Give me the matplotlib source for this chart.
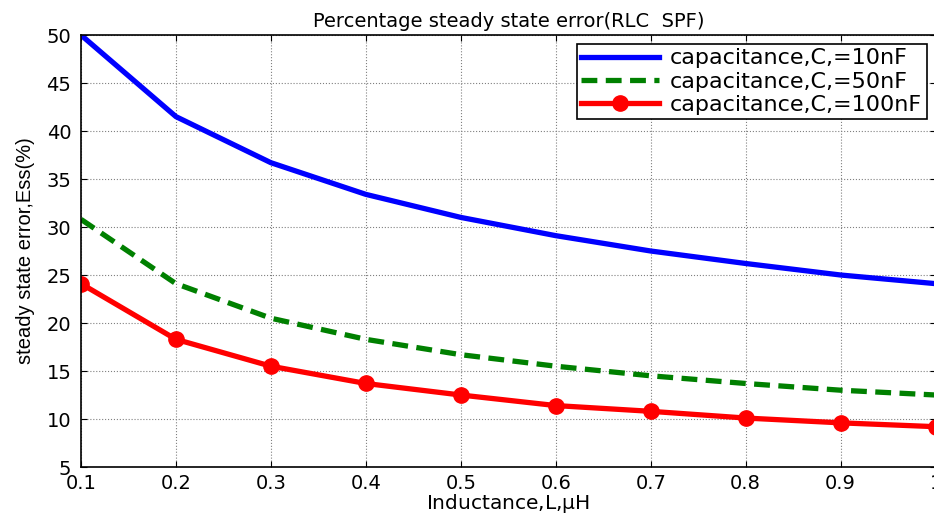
import numpy as np
import matplotlib.pyplot as plt

inductance = [0.1, 0.2, 0.3, 0.4, 0.5, 0.6, 0.7, 0.8, 0.9, 1.0]
err_10nF = [50.0, 41.5, 36.7, 33.4, 31.0, 29.1, 27.5, 26.2, 25.0, 24.1]
err_50nF = [30.8, 24.1, 20.5, 18.3, 16.7, 15.5, 14.5, 13.7, 13.0, 12.5]
err_100nF = [24.1, 18.3, 15.5, 13.7, 12.5, 11.4, 10.8, 10.1, 9.6, 9.2]
xtick_labels = ['0.1', '0.2', '0.3', '0.4', '0.5', '0.6', '0.7', '0.8', '0.9', '1']

plt.rcParams['font.family'] = ['DejaVu Sans']

fig = plt.figure(figsize=(9.34, 5.15), dpi=100)
ax = fig.add_axes([0.0867, 0.0932, 0.915, 0.8388])

ax.plot(inductance, err_10nF, color='blue', linewidth=3.8, label='capacitance,C,=10nF')
ax.plot(inductance, err_50nF, color='green', linewidth=3.8, linestyle=(0, (3, 1.6)),
        label='capacitance,C,=50nF')
ax.plot(inductance, err_100nF, color='red', linewidth=3.8, marker='o', markersize=11,
        label='capacitance,C,=100nF')

ax.set_xlim(0.1, 1.0)
ax.set_ylim(5, 50)
ax.set_xticks(np.arange(0.1, 1.01, 0.1))
ax.set_xticklabels(xtick_labels)
ax.set_yticks(np.arange(5, 51, 5))
ax.tick_params(direction='in', top=True, right=True, labelsize=14, length=4)
ax.tick_params(axis='x', pad=5)
ax.tick_params(axis='y', pad=7)
ax.grid(True, color='gray', linestyle=':', linewidth=0.8)
for s in ax.spines.values():
    s.set_linewidth(1.2)

ax.set_title('Percentage steady state error(RLC  SPF)', fontsize=14, pad=6)
ax.set_xlabel('Inductance,L,$\\mathregular{\\mu}$H', fontsize=14.5, labelpad=-1)
ax.set_ylabel('steady state error,Ess(%)', fontsize=14.5,
              family=['Liberation Sans Narrow', 'Liberation Sans'], labelpad=8)

leg = ax.legend(loc='upper right', fontsize=16, fancybox=False, framealpha=1,
                edgecolor='black', handlelength=3.5, handletextpad=0.5,
                borderaxespad=0.4, labelspacing=0.15, borderpad=0.2)
leg.get_frame().set_linewidth(1.2)

fig.savefig('out.png', dpi=100)
